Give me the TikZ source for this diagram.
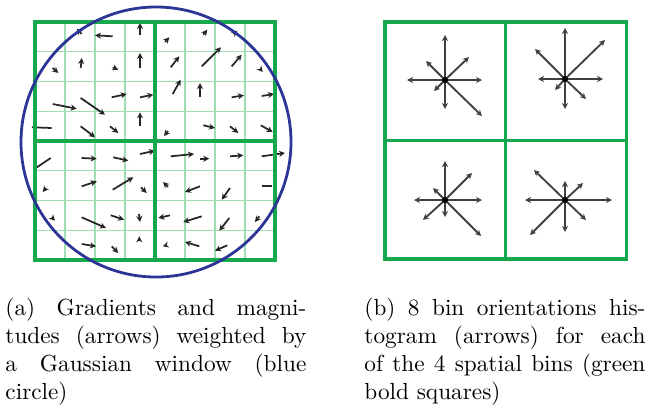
\documentclass[tikz,border=0pt]{standalone}
\usetikzlibrary{arrows.meta}
\definecolor{binGreen}{RGB}{22,168,76}
\definecolor{cellGreen}{RGB}{160,222,180}
\definecolor{gaussBlue}{RGB}{44,52,150}
\begin{document}
\begin{tikzpicture}[
        x=0.43pt, y=-0.43pt,
        cell/.style={draw=cellGreen, line width=0.6pt},
        bold/.style={draw=binGreen, line width=1.3pt},
        window/.style={draw=gaussBlue, line width=1.2pt},
        grad/.style={draw=black!85, line width=0.75pt, -{Stealth[length=2.6pt,width=2.6pt]}},
        bin/.style={draw=black!75, line width=0.8pt, -{Stealth[length=2.6pt,width=2.6pt]}},
        caption/.style={anchor=north west, inner sep=0pt, align=justify},
    ]
    \useasboundingbox (0,0) rectangle (649,410);

    % (a) gradients in the 8x8 cells
    \foreach \i in {1,...,7}{
        \draw[cell] (35+30*\i,22) -- (35+30*\i,260);
        \draw[cell] (35,22+29.75*\i) -- (275,22+29.75*\i);
    }
    \foreach \xa/\ya/\xb/\yb in {
        81.7/34/76.7/28.7, 112.7/36.3/95/35.3, 140/34.7/140/23,
        52.7/68/58.3/73, 80.7/68/81.7/58, 112.7/67.3/118.3/69.7, 140/68/140/53,
        52.7/104/76.7/108.7, 80.7/98/105/114.7, 111.7/97.3/126.7/94, 140/97.3/153.3/94.7,
        80.7/126.3/95/137.3, 110/126.3/118.3/133, 140/126.3/140/112.3,
        165/42/169.3/37.3, 203.3/34.7/207.3/29.7, 233.3/34/237.3/30.7,
        170.7/67.3/179.3/56.3, 201.7/66.3/221/47.3, 231.7/66.3/241.7/54.7, 260/68.7/262.7/72,
        172.7/94/180.7/79.7, 200/97.3/200/83, 231.7/97.3/244/95.3, 261.7/96/274/94,
        168/131/164/136, 203.3/125.3/215/128, 230/126.3/238.3/133, 260.7/125.3/272.7/132,
        81.7/158/96.7/158.7, 113.3/157.3/128.3/160.7, 140/154/155/150.7,
        46/188/42.7/192, 81.7/186.3/96.7/181.3, 112.7/189.7/133.3/177.3, 141/187.3/146.7/193,
        51.7/217.3/55/220.7, 81.7/217.3/106/228, 110.7/215.3/124/219.7, 139/214/140/222,
        81.7/244/96/246.3, 111.7/246.3/118.3/253, 139.3/241.3/139.3/236.3,
        170.7/156.3/194/154, 200/158.7/209.3/158.7, 230/156.3/243.3/155.3, 261.7/156.3/285/153,
        168/187/163/182, 200/186.3/185/192, 230/188/221.7/199.7,
        170/215.3/158.3/218, 201.7/216.3/183.3/222, 229.3/218/219.3/230.7, 259.3/216.3/255/222,
        166/245.3/162.7/246.3, 199.3/246.3/185/242, 227.3/245.3/215/250.7}
        \draw[grad] (\xa,\ya) -- (\xb,\yb);
    % strokes with no visible head
    \draw[grad, -] (32,127.3) -- (51.7,128);
    \draw[grad, -] (33.3,169.7) -- (50.7,158);
    \draw[grad, -] (261.7,186.3) -- (271.7,186.3);

    \draw[bold] (35,22) rectangle (275,260);
    \draw[bold] (155,22) -- (155,260);
    \draw[bold] (35,141) -- (275,141);
    \coordinate (gauss) at (156,142);
    \draw[window] (gauss) circle [radius=58.05pt];

    % (b) 8 bin histograms
    \draw[bold] (385,22) rectangle (626,259);
    \draw[bold] (505.5,22) -- (505.5,259);
    \draw[bold] (385,140.5) -- (626,140.5);
    \coordinate (h1) at (445,80);
    \coordinate (h2) at (565,79);
    \coordinate (h3) at (445,200);
    \coordinate (h4) at (565,200);
    \foreach \dx/\dy in {0/-45, 0/29, -38/0, 37/0, 24/-23, -19/-19, -11/11, 37/36}
        \draw[bin] (h1) -- ++(\dx,\dy);
    \foreach \dx/\dy in {0/-51, 0/30, -27/0, 38/0, 40/-39, -30/-30, -10/11, 21/20}
        \draw[bin] (h2) -- ++(\dx,\dy);
    \foreach \dx/\dy in {0/-39, 0/17, -31/0, 37/0, 27/-27, -12/-12, -22/20, 36/36}
        \draw[bin] (h3) -- ++(\dx,\dy);
    \foreach \dx/\dy in {0/-19, 0/32, -40/0, 47/0, 18/-17, -31/-30, -35/35, 21/20}
        \draw[bin] (h4) -- ++(\dx,\dy);
    \foreach \h in {h1,h2,h3,h4}
        \fill[black] (\h) circle [radius=1.3pt];

    % captions
    \node[caption, text width=129.4pt] (capa) at (5,298) {(a) Gradients and magni-\linebreak tudes (arrows) weighted by\linebreak a Gaussian window (blue\linebreak circle)};
    \node[caption, text width=120.8pt] (capb) at (364,298) {(b) 8 bin orientations his-\linebreak togram (arrows) for each\linebreak of the 4 spatial bins (green\linebreak bold squares)};
\end{tikzpicture}
\end{document}
